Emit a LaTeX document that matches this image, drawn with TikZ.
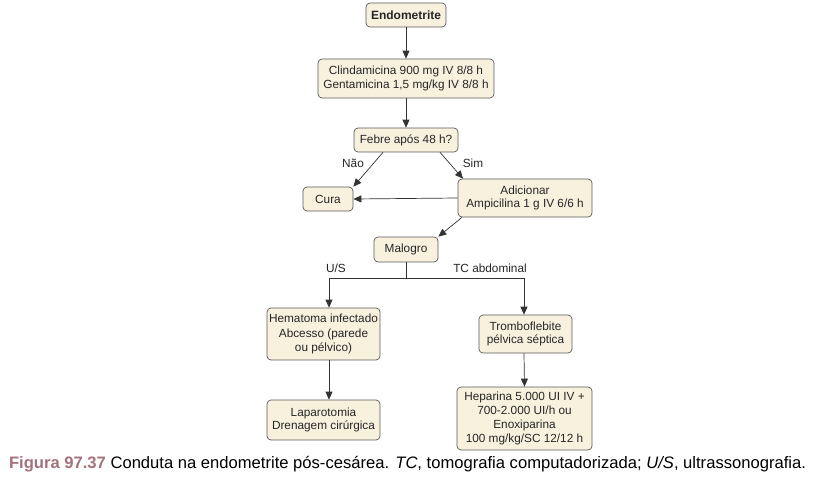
\documentclass[tikz,border=0pt]{standalone}
\usepackage{fontspec}
\setmainfont{Liberation Sans}
\usetikzlibrary{arrows.meta,calc}
\definecolor{boxfill}{HTML}{F8F1DE}
\definecolor{boxline}{HTML}{5A5A5A}
\definecolor{capcol}{HTML}{A3727B}
\tikzset{
  fbox/.style={draw=boxline,fill=boxfill,rounded corners=4pt,line width=0.7pt,align=center,
    inner sep=0pt,font=\fontsize{11.8}{13.3}\selectfont,text=black!85},
  conn/.style={draw=black!80,line width=0.7pt,-{Triangle[length=8pt,width=7pt]}},
  plain/.style={draw=black!80,line width=0.7pt},
  lbl/.style={font=\fontsize{11.8}{13}\selectfont,text=black!85,inner sep=0pt}
}
\begin{document}
\begin{tikzpicture}[x=1pt,y=-1pt]
\useasboundingbox[fill=white] (0,0) rectangle (816,477);
\node[fbox,minimum width=80pt,minimum height=24pt,font=\fontsize{12}{13}\selectfont\bfseries] (endo) at (406,15) {Endometrite};
\node[fbox,minimum width=176pt,minimum height=39pt] (clin) at (406,78.5) {Clindamicina 900 mg IV 8/8 h\\Gentamicina 1,5 mg/kg IV 8/8 h};
\node[fbox,minimum width=104pt,minimum height=24pt] (febre) at (406,140) {Febre após 48 h?};
\node[fbox,minimum width=50pt,minimum height=24pt] (cura) at (328,199) {Cura};
\node[fbox,minimum width=134pt,minimum height=38pt] (adic) at (525,198) {Adicionar\\Ampicilina 1 g IV 6/6 h};
\node[fbox,minimum width=64pt,minimum height=25pt] (malo) at (406,249.5) {Malogro};
\node[fbox,minimum width=113pt,minimum height=52pt,font=\fontsize{11.8}{14.5}\selectfont] (hema) at (323.5,334) {Hematoma infectado\\Abcesso (parede\\ou pélvico)};
\node[fbox,minimum width=93pt,minimum height=38pt] (trombo) at (525.5,334) {Tromboflebite\\pélvica séptica};
\node[fbox,minimum width=113pt,minimum height=40pt] (lapa) at (323.5,420) {Laparotomia\\Drenagem cirúrgica};
\node[fbox,minimum width=135pt,minimum height=63pt,font=\fontsize{11.8}{13.8}\selectfont] (hepa) at (524.5,418.5) {Heparina 5.000 UI IV +\\700-2.000 UI/h ou\\Enoxiparina\\100 mg/kg/SC 12/12 h};

\draw[conn] (endo) -- (clin);
\draw[conn] (clin) -- (febre);
\draw[conn] ([xshift=-23pt]febre.south) -- (cura.north east);
\draw[conn] ([xshift=34pt]febre.south) -- ([xshift=-62pt]adic.north);
\draw[conn] (adic.west) -- (cura.east);
\draw[conn] ([xshift=-63pt]adic.south) -- (malo.north east);
\coordinate (split) at (406,278);
\draw[plain] (malo.south) -- (split);
\draw[conn] (split) -| ([xshift=5.5pt]hema.north);
\draw[conn] (split) -| ([xshift=-1.5pt]trombo.north);
\draw[conn] ([xshift=5.5pt]hema.south) -- ([xshift=5.5pt]lapa.north);
\draw[conn] ([xshift=-1.5pt]trombo.south) -- (hepa.north);

\node[lbl] (nao) at (353,163) {Não};
\node[lbl] (sim) at (473,163) {Sim};
\node[lbl] (us) at (336,268) {U/S};
\node[lbl] (tc) at (490,268) {TC abdominal};

\node[inner sep=0pt,font=\fontsize{16.6}{18}\selectfont] (cap) at (407.5,464) {\textcolor{capcol}{\textbf{Figura 97.37}} Conduta na endometrite pós-cesárea. \textit{TC}, tomografia computadorizada; \textit{U/S}, ultrassonografia.};
\end{tikzpicture}
\end{document}
